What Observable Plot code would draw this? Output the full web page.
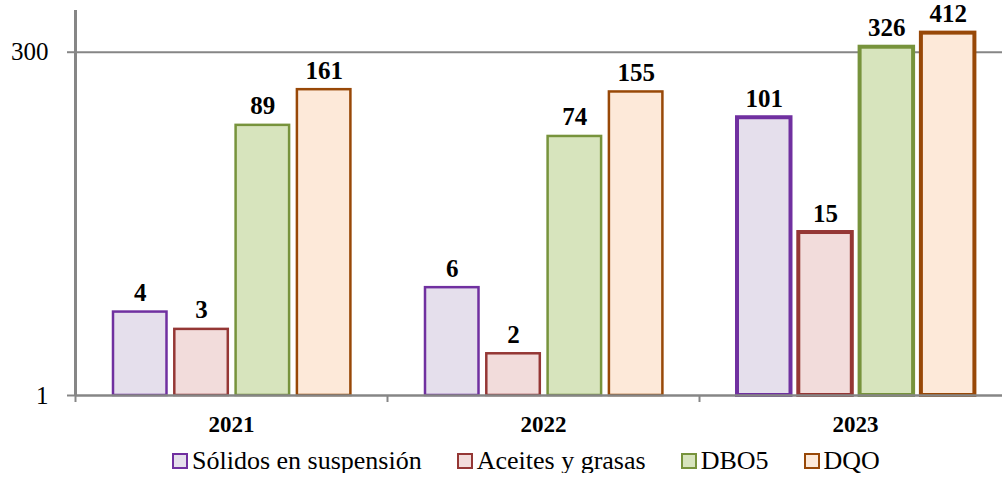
<!DOCTYPE html>
<html><head><meta charset="utf-8">
<script src="https://cdn.jsdelivr.net/npm/d3@7"></script>
<script src="https://cdn.jsdelivr.net/npm/@observablehq/plot@0.6"></script>
<style>
body{margin:0;background:#fff;font-family:"Liberation Serif","Times New Roman","DejaVu Serif",serif;}
#legend{display:flex;align-items:center;margin-left:172px;margin-top:4px;font-size:26px;line-height:24px;color:#000;white-space:nowrap;}
.item{display:flex;align-items:center;margin-right:35px;}
.sw{width:16px;height:16px;box-sizing:border-box;border:2.5px solid;margin-right:4px;}
</style></head><body><div id="chart"></div><div id="legend"></div>
<script>
const years = ["2021", "2022", "2023"];
const series = ["Sólidos en suspensión", "Aceites y grasas", "DBO5", "DQO"];
const solidos = [4, 6, 101];
const aceites = [3, 2, 15];
const dbo5 = [89, 74, 326];
const dqo = [161, 155, 412];
const yTicks = [1, 300];

const values = [solidos, aceites, dbo5, dqo];
const fills = ["#e5dfec", "#f2dcdb", "#d7e4bd", "#fde9d9"];
const strokes = ["#7030a0", "#953735", "#77933c", "#984807"];
const grey = "#868686";
const FONT = '"Liberation Serif","Times New Roman","DejaVu Serif",serif';

const data = series.flatMap((s, i) => years.map((y, j) => ({series: s, year: y, value: values[i][j]})));

const band = 312, off0 = 38, step = 61.3, barW = 53.5;
const marks = [Plot.ruleY([300], {stroke: grey, strokeWidth: 2})];
series.forEach((s, i) => {
  const rows = data.filter(d => d.series === s);
  const il = off0 + i * step;
  marks.push(Plot.barY(rows, {
    x: "year", y1: 1, y2: "value",
    fill: fills[i], stroke: strokes[i],
    strokeWidth: d => d.year === "2023" ? 4 : 2.5,
    insetLeft: il, insetRight: band - il - barW
  }));
  marks.push(Plot.text(rows, {
    x: "year", y: "value", text: d => String(d.value),
    dx: il + barW / 2 - band / 2, dy: -11, lineAnchor: "bottom",
    fontWeight: "bold", fontSize: 25, fontFamily: FONT, fill: "#000"
  }));
});
marks.push(
  Plot.ruleY([1], {stroke: grey, strokeWidth: 2.5}),
  Plot.tickX([years[0]], {x: d => d, dx: -band / 2, stroke: grey, strokeWidth: 3}),
  Plot.tickX(years, {x: d => d, dx: -band / 2, insetTop: 385, insetBottom: -7, stroke: grey, strokeWidth: 2}),
  Plot.axisY({ticks: yTicks, tickFormat: d => String(d), tickSize: 8, tickPadding: 19, fontSize: 25, fontFamily: FONT, stroke: grey, strokeWidth: 2, label: null}),
  Plot.axisX({tickSize: 0, tickPadding: 20, fontSize: 23, fontFamily: FONT, fontWeight: "bold", label: null})
);

const chart = Plot.plot({
  width: 1002, height: 445,
  marginLeft: 75, marginRight: 0, marginTop: 10, marginBottom: 50,
  x: {type: "band", domain: years, range: [75, 75 + 3 * band], padding: 0},
  y: {type: "log", domain: [1, 600]},
  style: {fontFamily: FONT, background: "white", color: "black", overflow: "visible"},
  marks
});
document.getElementById("chart").appendChild(chart);

const legend = document.getElementById("legend");
series.forEach((s, i) => {
  const it = document.createElement("div");
  it.className = "item";
  const sw = document.createElement("span");
  sw.className = "sw";
  sw.style.background = fills[i];
  sw.style.borderColor = strokes[i];
  const t = document.createElement("span");
  t.textContent = s;
  it.appendChild(sw); it.appendChild(t);
  legend.appendChild(it);
});
</script></body></html>
